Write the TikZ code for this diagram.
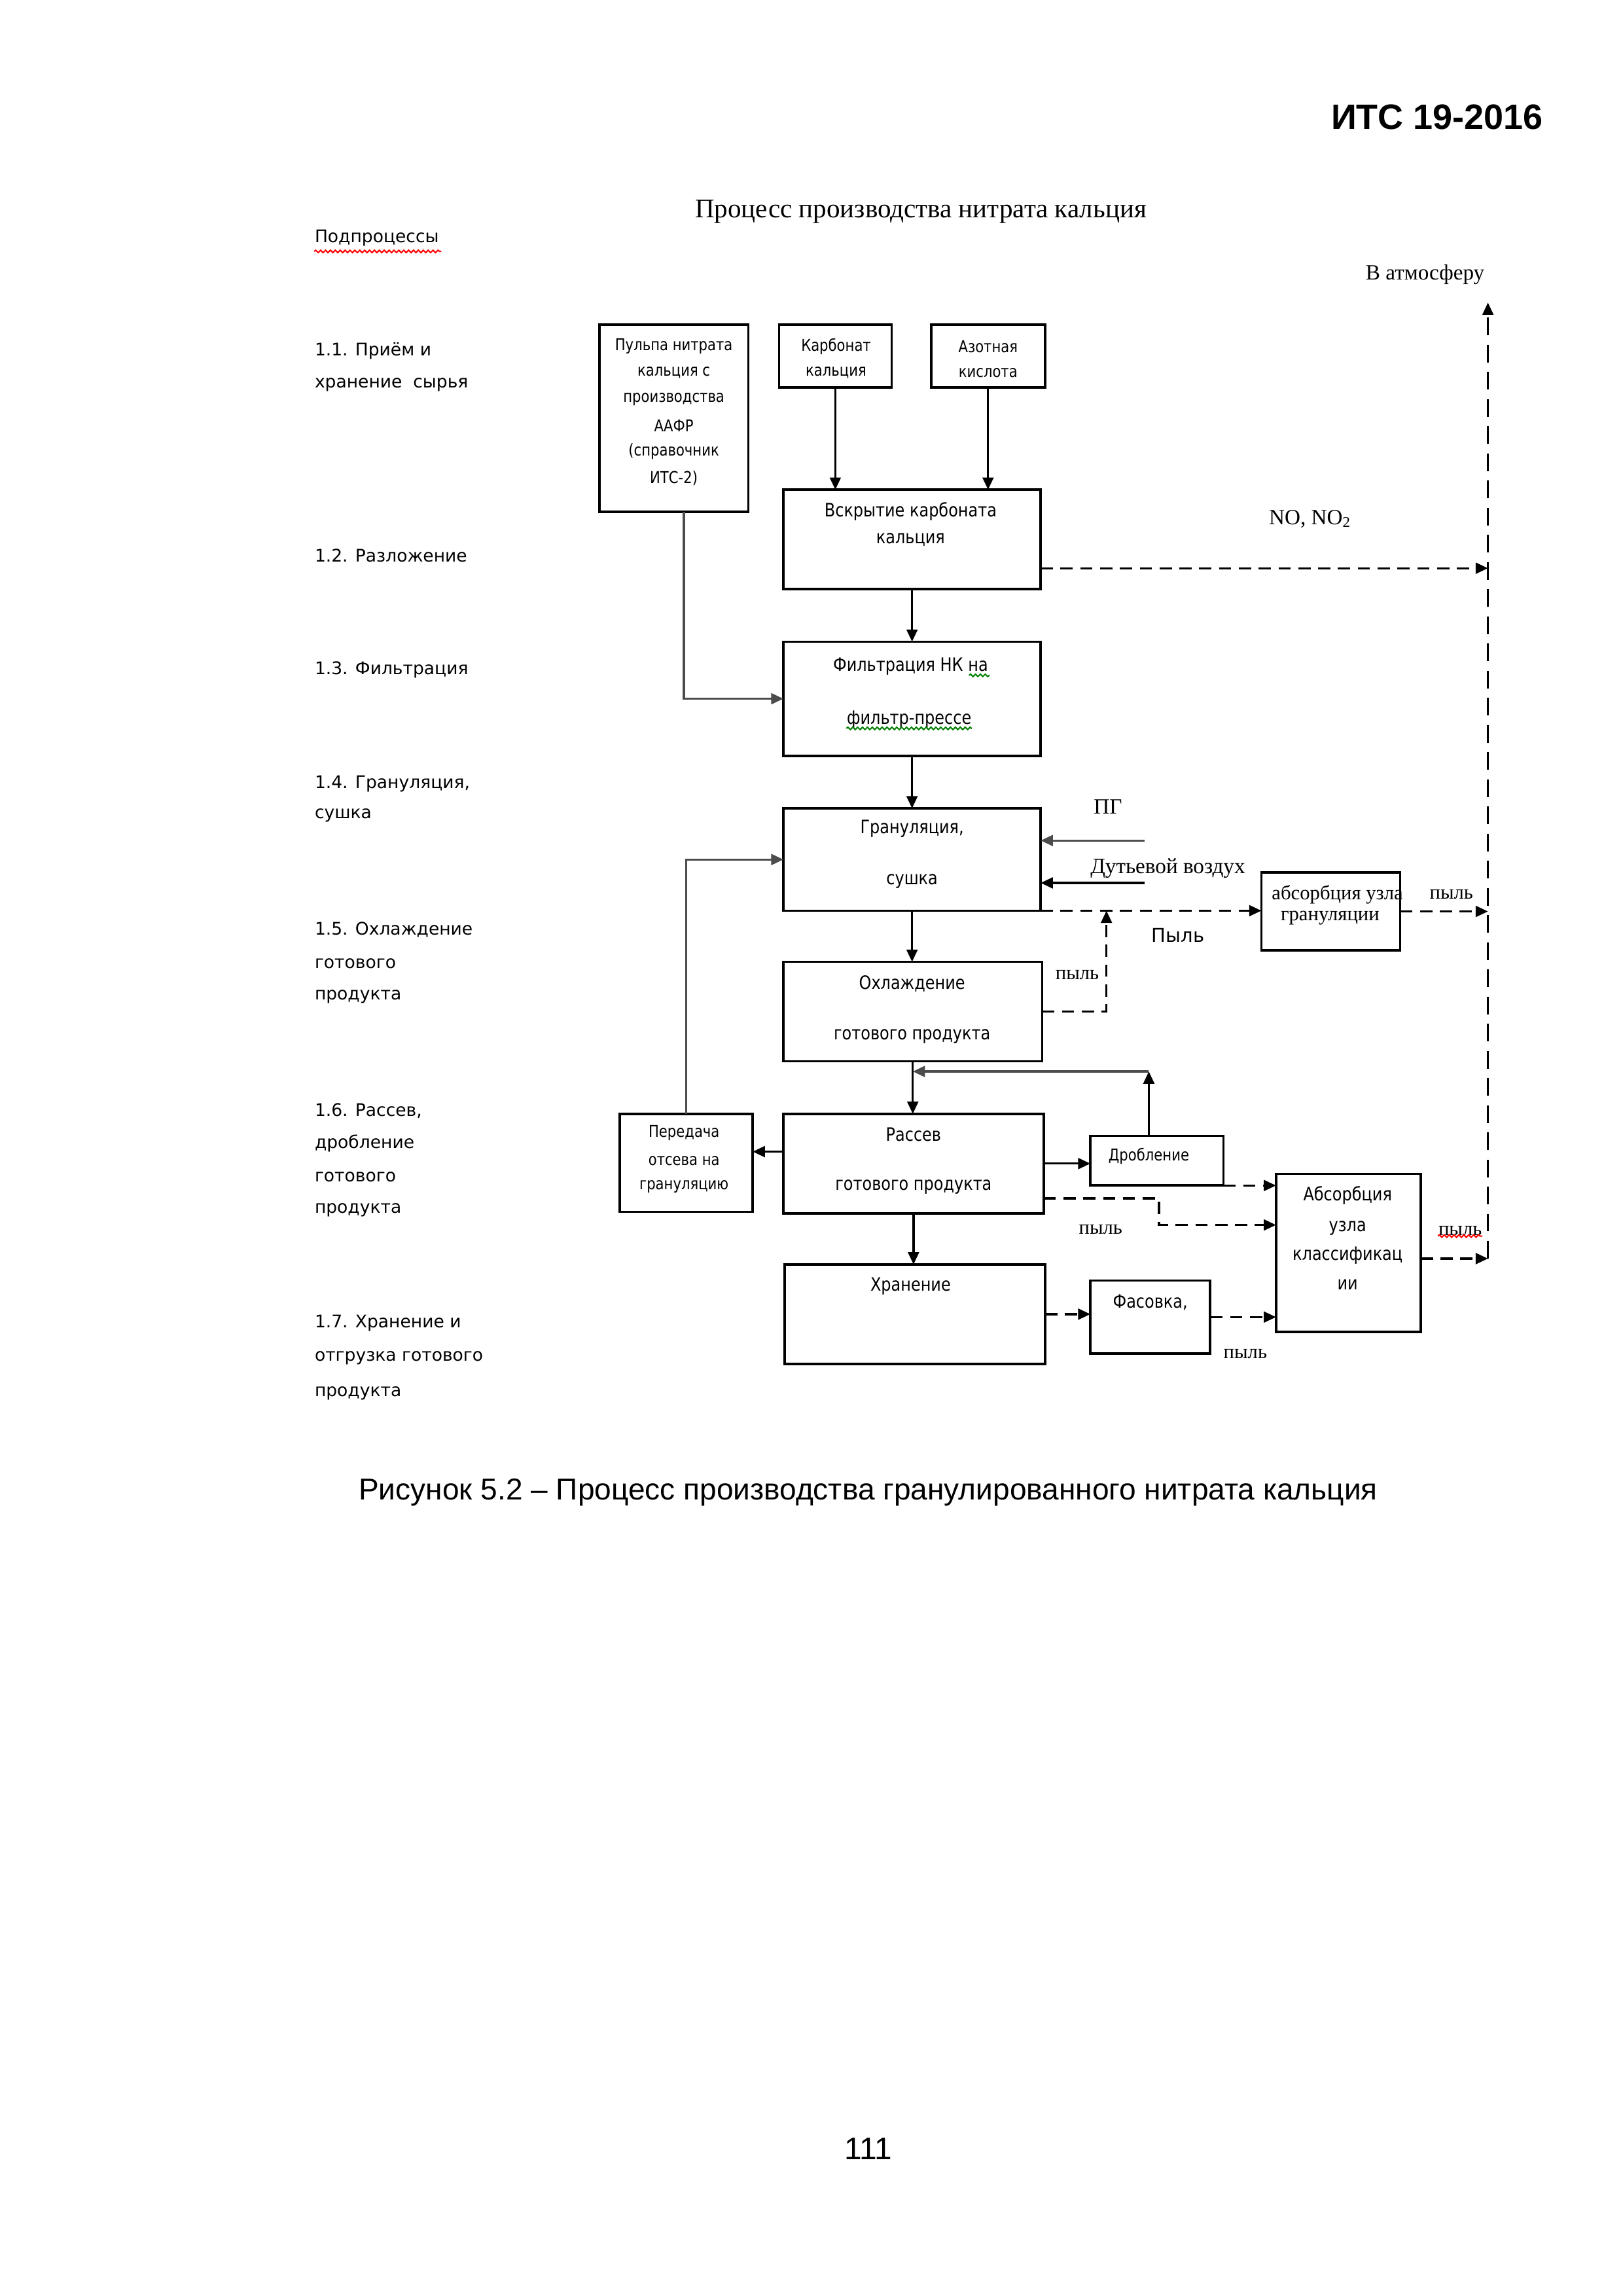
\documentclass[tikz,border=0pt]{standalone}
\usepackage{fontspec}
\setmainfont{Liberation Serif}
\newfontfamily\arialf{Liberation Sans}
\newfontfamily\tahf{DejaVu Sans}
\newfontfamily\tahc[FakeStretch=0.85]{DejaVu Sans}
\usetikzlibrary{arrows.meta,calc,decorations.pathmorphing}
\newcommand\mkbox[5]{\node[box,minimum width={(#4-#2)*0.018919cm},minimum height={(#5-#3)*0.018919cm}] (#1) at ({(#2+#4)/2},{(#3+#5)/2}) {};}
\begin{document}
\begin{tikzpicture}[x=0.018919cm,y=-0.018919cm,
 box/.style={draw,line width=0.9pt,inner sep=0pt,outer sep=0pt},
 bt/.style={font=\tahc\fontsize{6.8}{8}\selectfont,inner sep=0pt},
 bts/.style={font=\tahc\fontsize{6}{7}\selectfont,inner sep=0pt},
 lbl/.style={font=\tahf\fontsize{6.4}{8}\selectfont,anchor=west,inner sep=0pt},
 ser/.style={font=\fontsize{8}{9}\selectfont,inner sep=0pt},
 sers/.style={font=\fontsize{7.4}{8}\selectfont,inner sep=0pt},
 arr/.style={line width=0.8pt,-{Triangle[length=4.5pt,width=4pt]}},
 garr/.style={arr,draw=black!70},
 darr/.style={arr,dash pattern=on 4.5pt off 2.8pt},
 vdash/.style={line width=0.7pt,dash pattern=on 6.5pt off 3.5pt,-{Triangle[length=4.5pt,width=4pt]}},
 wavyr/.style={draw=red,line width=0.5pt,decorate,decoration={snake,amplitude=0.45pt,segment length=1.8pt}},
 wavyg/.style={draw=green!50!black,line width=0.5pt,decorate,decoration={snake,amplitude=0.45pt,segment length=1.8pt}}]
\fill[white] (0,0) rectangle (1110,1570.7);
\useasboundingbox (0,0) rectangle (1110,1570.7);

% header, title, caption
\node[font=\arialf\bfseries\fontsize{13}{15}\selectfont,anchor=east,inner sep=0pt] (hdr) at (1056,80) {ИТС 19-2016};
\node[font=\fontsize{9.9}{12}\selectfont,inner sep=0pt] (ttl) at (630,145) {Процесс производства нитрата кальция};
\node[font=\arialf\fontsize{11.1}{13}\selectfont,inner sep=0pt] (cap) at (594,1021) {Рисунок 5.2 – Процесс производства гранулированного нитрата кальция};
\node[font=\arialf\fontsize{11.5}{13}\selectfont,inner sep=0pt] (pnum) at (594,1470) {111};

% left labels
\node[lbl] (sub) at (215,163) {Подпроцессы};
\draw[wavyr] (215,172) -- (302,172);
\node[lbl] (l11a) at (215,240) {1.1. Приём и};
\node[lbl] (l11b) at (215,263) {хранение\ \ сырья};
\node[lbl] (l12) at (215,380) {1.2. Разложение};
\node[lbl] (l13) at (215,458) {1.3. Фильтрация};
\node[lbl] (l14a) at (215,536) {1.4. Грануляция,};
\node[lbl] (l14b) at (215,558) {сушка};
\node[lbl] (l15a) at (215,636) {1.5. Охлаждение};
\node[lbl] (l15b) at (215,659) {готового};
\node[lbl] (l15c) at (215,682) {продукта};
\node[lbl] (l16a) at (215,760) {1.6. Рассев,};
\node[lbl] (l16b) at (215,782) {дробление};
\node[lbl] (l16c) at (215,805) {готового};
\node[lbl] (l16d) at (215,828) {продукта};
\node[lbl] (l17a) at (215,905) {1.7. Хранение и};
\node[lbl] (l17b) at (215,929) {отгрузка готового};
\node[lbl] (l17c) at (215,953) {продукта};

% boxes
\mkbox{pulp}{410}{222}{512}{350}
\mkbox{carb}{533}{222}{610}{265}
\mkbox{acid}{637}{222}{715}{265}
\mkbox{vsk}{536}{335}{712}{403}
\mkbox{filt}{536}{439}{712}{517}
\mkbox{gran}{536}{553}{712}{623}
\mkbox{absg}{863}{597}{958}{650}
\mkbox{cool}{536}{658}{713}{726}
\mkbox{ras}{536}{762}{714}{830}
\mkbox{ped}{424}{762}{515}{829}
\mkbox{drob}{746}{777}{837}{811}
\mkbox{absc}{873}{803}{972}{911}
\mkbox{khr}{537}{865}{715}{933}
\mkbox{fas}{746}{876}{828}{926}

% box texts
\node[bts] (t1) at (461,237) {Пульпа нитрата};
\node[bts] (t2) at (461,255) {кальция с};
\node[bts] (t3) at (461,273) {производства};
\node[bts] (t4) at (461,291) {ААФР};
\node[bts] (t5) at (461,309) {(справочник};
\node[bts] (t6) at (461,327) {ИТС-2)};
\node[bts] (c1) at (572,237) {Карбонат};
\node[bts] (c2) at (572,255) {кальция};
\node[bts] (a1) at (676,237) {Азотная};
\node[bts] (a2) at (676,255) {кислота};
\node[bt] (v1) at (623,350) {Вскрытие карбоната};
\node[bt] (v2) at (623,369) {кальция};
\node[bt] (f1) at (623,456) {Фильтрация НК на};
\node[bt] (f2) at (622,492) {фильтр-прессе};
\draw[wavyg] (663,462) -- (677,462);
\draw[wavyg] (f2.south west) -- (f2.south east);
\node[bt] (g1) at (624,567) {Грануляция,};
\node[bt] (g2) at (624,603) {сушка};
\node[bt] (o1) at (624,673) {Охлаждение};
\node[bt] (o2) at (624,709) {готового продукта};
\node[bt] (r1t) at (625,776) {Рассев};
\node[bt] (r2t) at (625,812) {готового продукта};
\node[bts] (p1) at (468,775) {Передача};
\node[bts] (p2) at (468,794) {отсева на};
\node[bts] (p3) at (468,812) {грануляцию};
\node[bts] (d1) at (786,791) {Дробление};
\node[bt] (ab1) at (922,818) {Абсорбция};
\node[bt] (ab2) at (922,840) {узла};
\node[bt] (ab3) at (922,859) {классификац};
\node[bt] (ab4) at (922,879) {ии};
\node[bt] (h1) at (623,880) {Хранение};
\node[bt] (fa1) at (787,891) {Фасовка,};
\node[sers] (ag1) at (915,612) {абсорбция узла};
\node[sers] (ag2) at (910,628) {грануляции};

% free labels
\node[ser] (atmt) at (975,188) {В атмосферу};
\node[ser] (nox) at (896,355) {NO, NO\raisebox{-0.3ex}{\fontsize{5.5}{6}\selectfont 2}};
\node[ser] (pgt) at (758,552) {ПГ};
\node[ser] (airt) at (799,594) {Дутьевой воздух};
\node[sers] (py1) at (993,612) {пыль};
\node[font=\tahf\fontsize{7}{8}\selectfont,inner sep=0pt] (py2) at (806,640) {Пыль};
\node[sers] (py3) at (737,667) {пыль};
\node[sers] (py4) at (753,841) {пыль};
\node[sers] (py5) at (999,842) {пыль};
\draw[wavyr] (py5.south west) -- (py5.south east);
\node[sers] (py6) at (852,926) {пыль};

% connectors
\coordinate (rl) at (1018,0);
\coordinate (rbot) at (1018,861);
\coordinate (atm) at (1018,207);
\draw[vdash] (rbot) -- (atm);

\draw[arr] (carb.south) -- (carb.south |- vsk.north);
\draw[arr] (acid.south) -- (acid.south |- vsk.north);
\coordinate (vskout) at ($(vsk.north east)!0.79!(vsk.south east)$);
\draw[darr] (vskout) -- (vskout -| rl);
\draw[arr] (vsk.south) -- (vsk.south |- filt.north);
\draw[garr] ([xshift=0.13cm]pulp.south) |- (filt.west);
\draw[arr] (filt.south) -- (filt.south |- gran.north);
\coordinate (pgs) at (783,575);
\draw[garr] (pgs) -- (pgs -| gran.east);
\coordinate (airs) at (783,604);
\draw[arr] (airs) -- (airs -| gran.east);
\draw[darr] (gran.south east) -- (gran.south east -| absg.west);
\draw[darr] (absg.east) -- (absg.east -| rl);
\coordinate (dup) at (757,623);
\draw[darr] (cool.east) -| (dup);
\draw[arr] (gran.south) -- (gran.south |- cool.north);
\draw[arr] (cool.south) -- (cool.south |- ras.north);
\coordinate (ret) at (786,733);
\draw[arr] (ret |- drob.north) -- (ret);
\draw[garr] (ret) -- (ret -| cool.south);
\coordinate (rp) at ($(ras.north west)!0.38!(ras.south west)$);
\draw[arr] (rp) -- (rp -| ped.east);
\draw[garr] (ped.north) |- (gran.west);
\draw[arr] (ras.east) -- (ras.east -| drob.west);
\draw[darr] (drob.south east) -- (drob.south east -| absc.west);
\coordinate (rout) at ($(ras.north east)!0.85!(ras.south east)$);
\coordinate (bend) at (793,838);
\draw[darr] (rout) -| (bend) -- (bend -| absc.west);
\draw[arr] (ras.south) -- (ras.south |- khr.north);
\draw[darr] (khr.east) -- (khr.east -| fas.west);
\draw[darr] (fas.east) -- (fas.east -| absc.west);
\draw[darr] (absc.east |- rbot) -- (rbot);
\end{tikzpicture}
\end{document}
